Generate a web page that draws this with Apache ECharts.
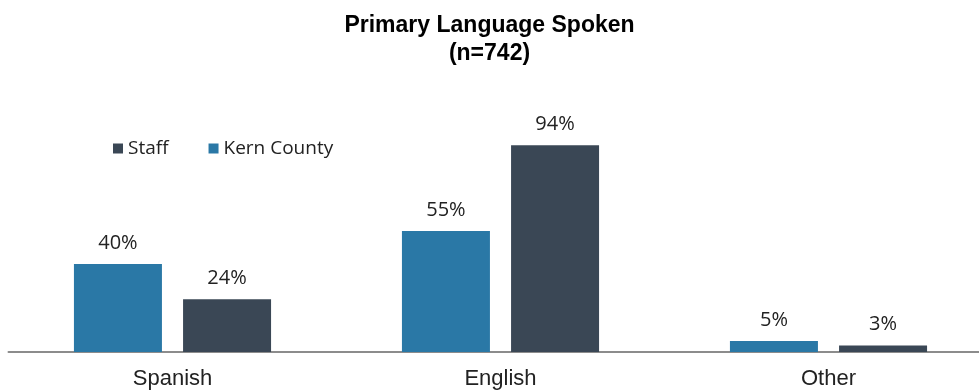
<!DOCTYPE html>
<html>
<head>
<meta charset="utf-8">
<script src="https://cdn.jsdelivr.net/npm/echarts@6/dist/echarts.min.js"></script>
<style>
  html, body { margin: 0; padding: 0; background: #fff; }
  #chart { width: 979px; height: 392px; }
</style>
</head>
<body>
<div id="chart"></div>
<script>
// Primary language shares, in percent
const categories = ['Spanish', 'English', 'Other'];
const kernCounty = [40, 55, 5];
const staff = [24, 94, 3];
const legendOrder = ['Staff', 'Kern County'];

const chart = echarts.init(document.getElementById('chart'));
const labelFont = '"Open Sans", "Noto Sans", sans-serif';

const valueLabel = {
  show: true, position: 'top', distance: 11,
  formatter: '{c}%',
  fontFamily: labelFont, fontSize: 20, color: '#222'
};

chart.setOption({
  animation: false,
  title: {
    text: 'Primary Language Spoken\n(n=742)',
    left: 'center',
    top: 7,
    textStyle: {
      fontFamily: '"Liberation Sans", Arial, sans-serif',
      fontWeight: 'bold',
      fontSize: 23,
      lineHeight: 28,
      color: '#000'
    }
  },
  legend: {
    data: legendOrder,
    left: 108,
    top: 134,
    itemWidth: 10,
    itemHeight: 10,
    itemGap: 40,
    icon: 'rect',
    textStyle: { fontFamily: labelFont, fontSize: 19, color: '#222' }
  },
  // the plot area runs a little past the right edge, so the last category is clipped
  grid: { left: 8.5, width: 984, top: 132, height: 220, outerBoundsMode: 'none' },
  xAxis: {
    type: 'category',
    data: categories,
    axisTick: { show: false },
    axisLine: { lineStyle: { color: '#8c8c8c', width: 2 } },
    axisLabel: {
      fontFamily: '"Liberation Sans", Arial, sans-serif',
      fontSize: 22, color: '#222', margin: 16
    }
  },
  yAxis: {
    type: 'value',
    min: 0,
    max: 100,
    show: false,
    splitLine: { show: false }
  },
  series: [
    {
      name: 'Kern County',
      type: 'bar',
      data: kernCounty,
      barWidth: 88,
      barGap: '24%',
      itemStyle: { color: '#2a78a6' },
      label: valueLabel
    },
    {
      name: 'Staff',
      type: 'bar',
      data: staff,
      barWidth: 88,
      barGap: '24%',
      itemStyle: { color: '#3a4755' },
      label: valueLabel
    }
  ]
});
</script>
</body>
</html>
